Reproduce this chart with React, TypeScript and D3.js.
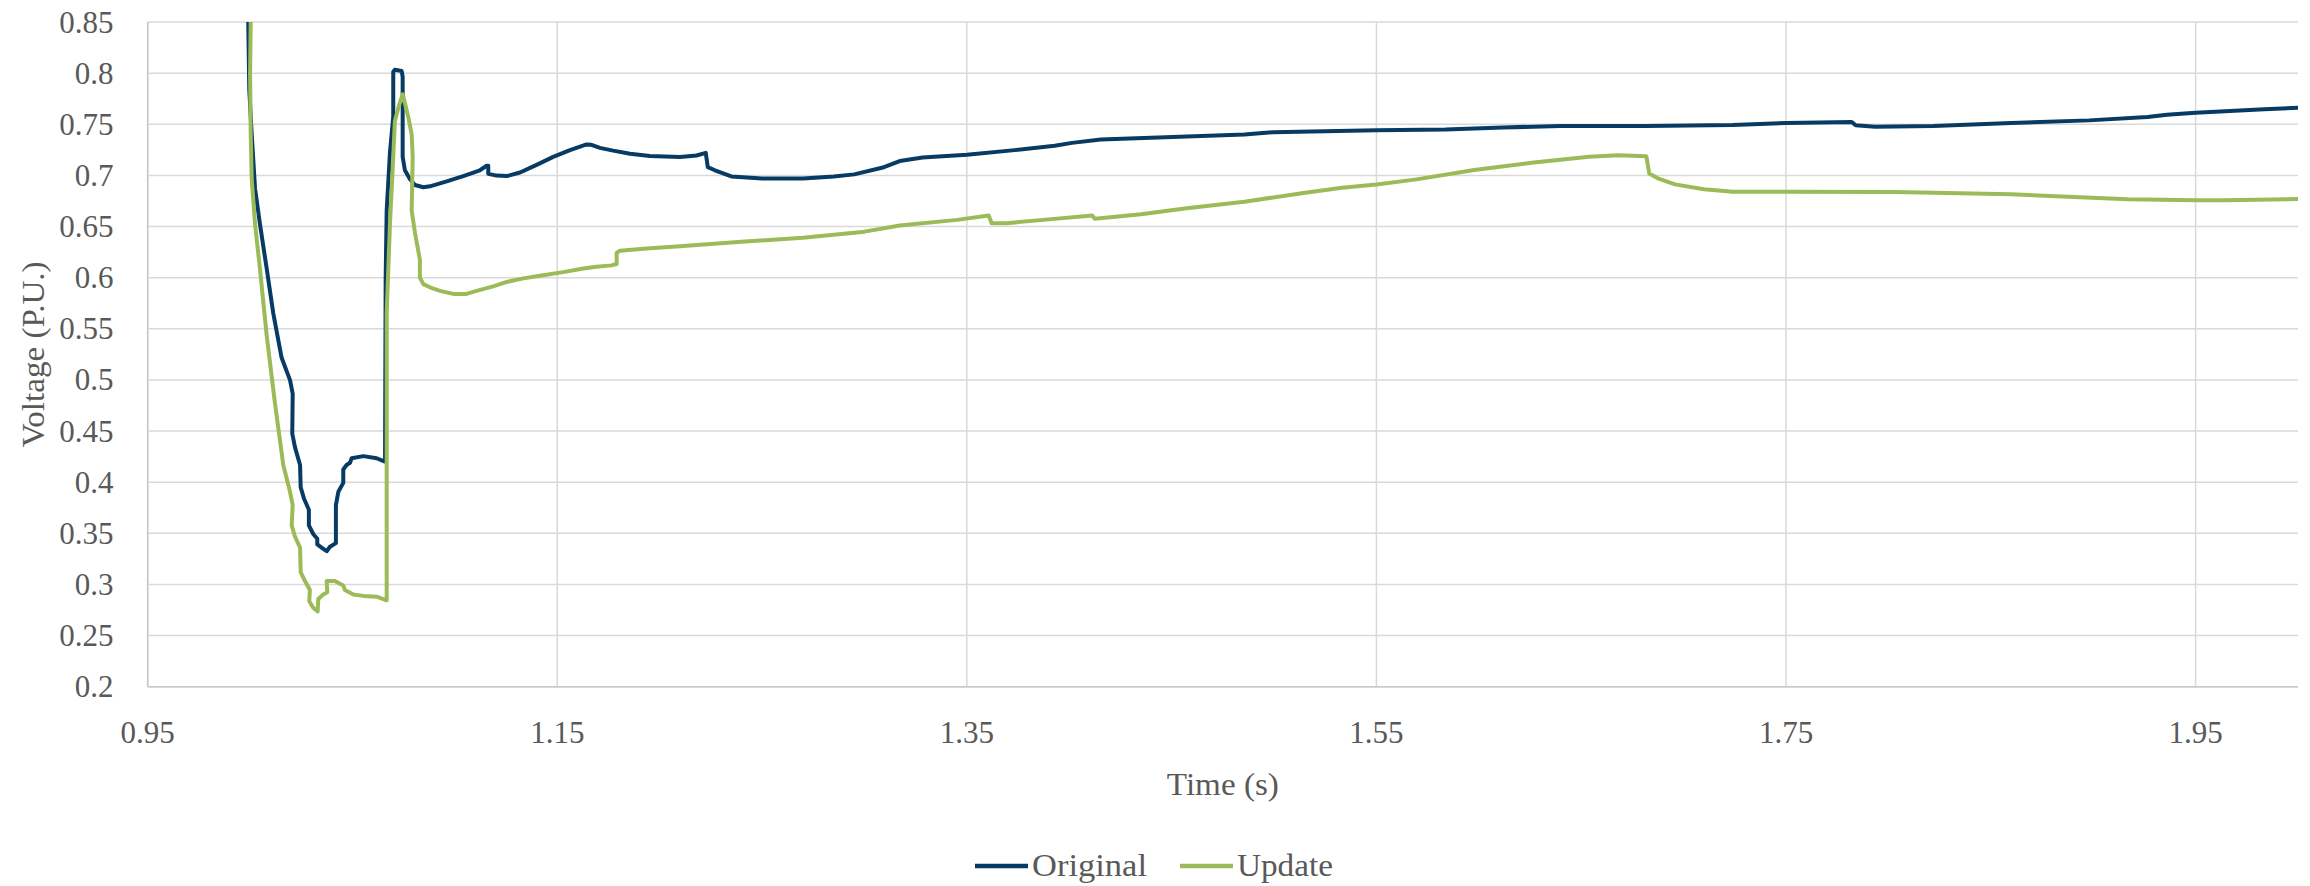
import React from "react";
import * as d3 from "d3";

// ---- Data ----
const originalTime = [
  0.999, 0.9991, 0.9996, 1.0008, 1.0024, 1.0048, 1.0081, 1.0113, 1.0154, 1.0195, 1.0208, 1.0206, 1.0219, 1.0244,
  1.0247, 1.0263, 1.0287, 1.0287, 1.0309, 1.0328, 1.0328, 1.0349, 1.0374, 1.039, 1.0419, 1.0419, 1.0431, 1.0455,
  1.0455, 1.0471, 1.0488, 1.0496, 1.0553, 1.0618, 1.0655, 1.0659, 1.0662, 1.0667, 1.0683, 1.0699, 1.0699, 1.0707,
  1.074, 1.0745, 1.0745, 1.0756, 1.0781, 1.0805, 1.0846, 1.0878, 1.096, 1.1041, 1.1122, 1.1155, 1.1163, 1.1163,
  1.1204, 1.1253, 1.1318, 1.1399, 1.148, 1.1562, 1.1643, 1.1667, 1.1708, 1.1773, 1.1855, 1.1952, 1.2099, 1.218,
  1.2225, 1.2235, 1.227, 1.235, 1.25, 1.27, 1.285, 1.295, 1.3095, 1.3172, 1.3284, 1.35, 1.3733, 1.3929, 1.4013,
  1.4154, 1.4434, 1.4855, 1.4995, 1.55, 1.5837, 1.6117, 1.6398, 1.6818, 1.7239, 1.75, 1.7821, 1.784, 1.7935, 1.822,
  1.86, 1.898, 1.9265, 1.936, 1.95, 1.9835, 2.0,
];
const originalVoltage = [
  0.88, 0.85, 0.7836, 0.74, 0.6875, 0.6526, 0.6089, 0.5653, 0.5216, 0.4998, 0.4867, 0.4474, 0.4343, 0.4168,
  0.3949, 0.3841, 0.3731, 0.3578, 0.3491, 0.3447, 0.3391, 0.336, 0.3325, 0.3369, 0.3404, 0.3775, 0.3906, 0.3993,
  0.4124, 0.4168, 0.419, 0.4234, 0.4255, 0.4234, 0.4203, 0.4203, 0.6, 0.6657, 0.7225, 0.7574, 0.8011, 0.8033,
  0.802, 0.7967, 0.7181, 0.705, 0.6963, 0.6906, 0.6884, 0.6893, 0.6941, 0.6993, 0.705, 0.7094, 0.7094, 0.7015,
  0.6998, 0.6993, 0.7028, 0.7103, 0.7181, 0.7247, 0.7303, 0.7299, 0.7269, 0.7242, 0.7212, 0.719, 0.7181, 0.7195,
  0.722, 0.708, 0.705, 0.699, 0.697, 0.697, 0.699, 0.701, 0.708, 0.714, 0.7175, 0.7201, 0.7247, 0.7289, 0.7318,
  0.7351, 0.737, 0.7399, 0.7422, 0.7442, 0.7448, 0.7468, 0.7484, 0.7484, 0.7493, 0.7512, 0.7522, 0.749, 0.7476,
  0.7483, 0.7512, 0.7538, 0.7571, 0.7594, 0.7613, 0.7646, 0.7662,
];

const updateTime = [
  0.9999, 1.0003, 1.0, 1.0003, 1.0008, 1.0024, 1.0048, 1.0081, 1.0121, 1.0162, 1.0195, 1.0208, 1.0203, 1.0219,
  1.0244, 1.0247, 1.0268, 1.0292, 1.0289, 1.0309, 1.033, 1.0333, 1.0357, 1.0377, 1.0374, 1.0414, 1.0455, 1.0463,
  1.0504, 1.0553, 1.0618, 1.0667, 1.0667, 1.0667, 1.0683, 1.0699, 1.0707, 1.0724, 1.0745, 1.0751, 1.0772, 1.0789,
  1.0794, 1.0789, 1.0805, 1.0829, 1.0829, 1.0846, 1.0878, 1.0927, 1.0992, 1.1057, 1.1106, 1.1187, 1.1253, 1.1334,
  1.1431, 1.1529, 1.1627, 1.1692, 1.1765, 1.179, 1.179, 1.1806, 1.1936, 1.2099, 1.24, 1.27, 1.3, 1.3172, 1.3452,
  1.3607, 1.3621, 1.3691, 1.3873, 1.4112, 1.4126, 1.435, 1.4574, 1.4855, 1.5135, 1.5332, 1.55, 1.5696, 1.5977,
  1.6257, 1.6538, 1.6678, 1.6818, 1.6832, 1.6874, 1.6958, 1.7099, 1.7239, 1.75, 1.803, 1.86, 1.917, 1.95, 1.9645,
  2.0,
];
const updateVoltage = [
  0.88, 0.85, 0.8, 0.74, 0.6963, 0.6526, 0.6089, 0.5434, 0.4779, 0.4168, 0.3906, 0.3775, 0.3578, 0.3469,
  0.336, 0.312, 0.3033, 0.2945, 0.2836, 0.277, 0.2736, 0.2858, 0.2902, 0.2923, 0.3033, 0.3033, 0.2989, 0.2945,
  0.2902, 0.2888, 0.288, 0.2845, 0.4343, 0.5653, 0.6526, 0.7181, 0.7531, 0.7662, 0.7793, 0.7749, 0.7574, 0.74,
  0.7181, 0.6657, 0.6439, 0.6177, 0.6002, 0.5937, 0.5906, 0.5871, 0.5841, 0.5841, 0.5871, 0.5915, 0.5958, 0.5993,
  0.6024, 0.6054, 0.6089, 0.6107, 0.612, 0.6133, 0.6242, 0.6264, 0.6286, 0.6308, 0.635, 0.639, 0.645, 0.651, 0.6565,
  0.6607, 0.6532, 0.6532, 0.6565, 0.6607, 0.6575, 0.662, 0.6678, 0.6743, 0.6825, 0.688, 0.6912, 0.6961, 0.7052,
  0.7123, 0.7182, 0.7198, 0.7188, 0.7019, 0.6971, 0.6912, 0.6864, 0.6841, 0.6841, 0.6837, 0.6815, 0.6766, 0.6756, 0.6756,
  0.6769,
];

const seriesNames = ["Original", "Update"];
const seriesColors = ["#073b63", "#9bbb59"];
const xTicks = [0.95, 1.15, 1.35, 1.55, 1.75, 1.95];
const yTicks = [0.2, 0.25, 0.3, 0.35, 0.4, 0.45, 0.5, 0.55, 0.6, 0.65, 0.7, 0.75, 0.8, 0.85];
const xDomain = [0.95, 2.0];
const yDomain = [0.2, 0.85];
const xTitle = "Time (s)";
const yTitle = "Voltage (P.U.)";

const W = 2310;
const H = 886;
const plot = { left: 147.7, right: 2298, top: 22, bottom: 686.7 };
const FONT = "'Liberation Serif', 'Times New Roman', serif";
const TEXT = "#595959";

export default function App() {
  const x = d3.scaleLinear().domain(xDomain).range([plot.left, plot.right]);
  const y = d3.scaleLinear().domain(yDomain).range([plot.bottom, plot.top]);
  const line = d3
    .line<[number, number]>()
    .x((d) => x(d[0]))
    .y((d) => y(d[1]));

  const series = [
    originalTime.map((t, i) => [t, originalVoltage[i]] as [number, number]),
    updateTime.map((t, i) => [t, updateVoltage[i]] as [number, number]),
  ];

  const fmt = (v: number) => String(Math.round(v * 100) / 100);

  const legendItems = [
    { lx: 975, tx: 1032, tl: 115 },
    { lx: 1180, tx: 1237, tl: 96 },
  ];

  return (
    <svg
      width={W}
      height={H}
      style={{ position: "absolute", left: 0, top: 0, background: "#fff" }}
      fontFamily={FONT}
    >
      <defs>
        <clipPath id="plotClip">
          <rect x={plot.left} y={plot.top} width={plot.right - plot.left} height={plot.bottom - plot.top} />
        </clipPath>
      </defs>
      {/* horizontal gridlines */}
      {yTicks.map((v) => (
        <line key={"h" + v} x1={plot.left} x2={plot.right} y1={y(v)} y2={y(v)} stroke="#d9d9d9" strokeWidth={1.5} />
      ))}
      {/* vertical gridlines */}
      {xTicks.map((v) => (
        <line key={"v" + v} x1={x(v)} x2={x(v)} y1={plot.top} y2={plot.bottom} stroke="#d9d9d9" strokeWidth={1.5} />
      ))}
      {/* axes */}
      <line x1={plot.left} x2={plot.left} y1={plot.top} y2={plot.bottom} stroke="#c8c8c8" strokeWidth={1.5} />
      <line x1={plot.left} x2={plot.right} y1={plot.bottom} y2={plot.bottom} stroke="#c8c8c8" strokeWidth={1.5} />

      {/* y tick labels */}
      {yTicks.map((v) => (
        <text key={"yl" + v} x={113.5} y={y(v)} dy="0.34em" textAnchor="end" fontSize={31} fill={TEXT}>
          {fmt(v)}
        </text>
      ))}
      {/* x tick labels */}
      {xTicks.map((v) => (
        <text key={"xl" + v} x={x(v)} y={743} textAnchor="middle" fontSize={31} fill={TEXT}>
          {fmt(v)}
        </text>
      ))}

      {/* series */}
      <g clipPath="url(#plotClip)">
        {series.map((s, i) => (
          <path
            key={seriesNames[i]}
            d={line(s) || ""}
            fill="none"
            stroke={seriesColors[i]}
            strokeWidth={4}
            strokeLinejoin="round"
            strokeLinecap="round"
          />
        ))}
      </g>

      {/* axis titles */}
      <text x={(plot.left + plot.right) / 2} y={795} textAnchor="middle" fontSize={31} fill={TEXT} textLength={112} lengthAdjust="spacingAndGlyphs">
        {xTitle}
      </text>
      <text
        transform={`translate(44, ${(plot.top + plot.bottom) / 2}) rotate(-90)`}
        textAnchor="middle"
        fontSize={31}
        fill={TEXT}
        textLength={186}
        lengthAdjust="spacingAndGlyphs"
      >
        {yTitle}
      </text>

      {/* legend */}
      {seriesNames.map((n, i) => (
        <g key={"lg" + n}>
          <line x1={legendItems[i].lx} x2={legendItems[i].lx + 53} y1={866} y2={866} stroke={seriesColors[i]} strokeWidth={4.5} />
          <text x={legendItems[i].tx} y={876} fontSize={31} fill={TEXT} textLength={legendItems[i].tl} lengthAdjust="spacingAndGlyphs">
            {n}
          </text>
        </g>
      ))}
    </svg>
  );
}
